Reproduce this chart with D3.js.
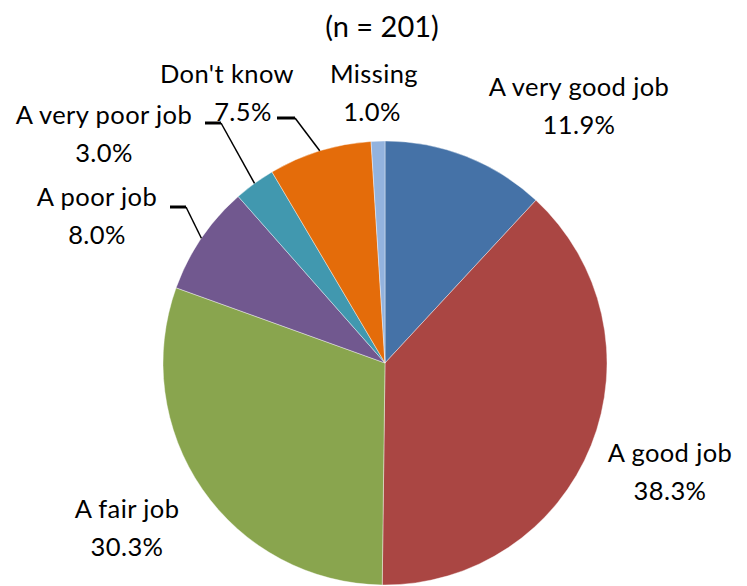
<!DOCTYPE html>
<html>
<head>
<meta charset="utf-8">
<script src="https://cdn.jsdelivr.net/npm/d3@7"></script>
<style>
  html, body { margin: 0; padding: 0; background: #fff; }
  svg text { font-family: Lato, "Liberation Sans", sans-serif; fill: #000; }
</style>
</head>
<body>
<svg id="chart" width="747" height="586"></svg>
<script>
// Survey responses (percent of n = 201)
const categories = ["A very good job", "A good job", "A fair job", "A poor job", "A very poor job", "Don't know", "Missing"];
const values = [11.9, 38.3, 30.3, 8.0, 3.0, 7.5, 1.0];
const colors = ["#4572A7", "#AA4643", "#89A54E", "#71588F", "#4198AF", "#E46C0A", "#93B3DE"];
const title = "(n = 201)";

// Label placement: baseline of the name line, x of each line, and leader line elbow
const labelLayout = [
  { y: 96,  nameX: 579, pctX: 579 },
  { y: 462, nameX: 670, pctX: 670 },
  { y: 518, nameX: 127, pctX: 127 },
  { y: 206, nameX: 97,  pctX: 97,  leader: { x0: 170, x1: 186, y: 207 } },
  { y: 124, nameX: 104, pctX: 104, leader: { x0: 205, x1: 221, y: 123 } },
  { y: 83,  nameX: 227, pctX: 243, leader: { x0: 277, x1: 295, y: 118 } },
  { y: 83,  nameX: 374, pctX: 372 }
];

const svg = d3.select("#chart");
const cx = 385, cy = 363, r = 222;
const fontSize = 25.5, lineH = 37.5;

svg.append("text")
  .attr("x", 382).attr("y", 37)
  .attr("text-anchor", "middle")
  .attr("font-size", 29)
  .text(title);

const pie = d3.pie().sort(null).value(d => d)(values);
const arc = d3.arc().innerRadius(0).outerRadius(r);

const g = svg.append("g").attr("transform", `translate(${cx},${cy})`);
g.selectAll("path.slice")
  .data(pie)
  .join("path")
  .attr("class", "slice")
  .attr("d", arc)
  .attr("fill", (d, i) => colors[i])
  .attr("stroke", "#fff")
  .attr("stroke-width", 0.4);

pie.forEach((d, i) => {
  const L = labelLayout[i];
  svg.append("text")
    .attr("x", L.nameX).attr("y", L.y)
    .attr("text-anchor", "middle")
    .attr("font-size", fontSize)
    .attr("letter-spacing", 0.4)
    .text(categories[i]);
  svg.append("text")
    .attr("x", L.pctX).attr("y", L.y + lineH)
    .attr("text-anchor", "middle")
    .attr("font-size", fontSize)
    .attr("letter-spacing", 0.4)
    .text(values[i].toFixed(1) + "%");
  if (L.leader) {
    // leader runs from the label elbow to the slice edge at its mid-angle
    const mid = (d.startAngle + d.endAngle) / 2;
    const ex = cx + r * Math.sin(mid);
    const ey = cy - r * Math.cos(mid);
    const ld = L.leader;
    svg.append("polyline")
      .attr("points", `${ld.x1},${ld.y} ${ex},${ey}`)
      .attr("fill", "none")
      .attr("stroke", "#000")
      .attr("stroke-width", 1.5);
    svg.append("line")
      .attr("x1", ld.x0).attr("y1", ld.y)
      .attr("x2", ld.x1).attr("y2", ld.y)
      .attr("stroke", "#000")
      .attr("stroke-width", 3);
  }
});
</script>
</body>
</html>
